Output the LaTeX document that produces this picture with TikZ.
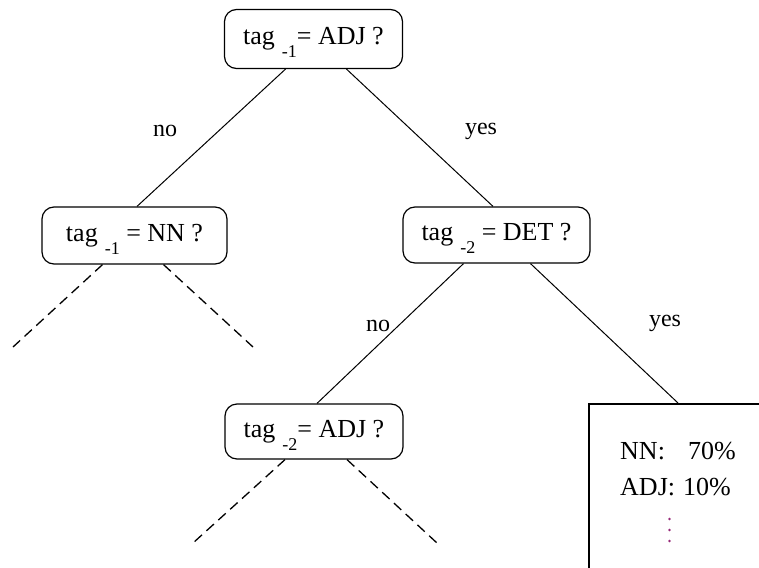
\documentclass[tikz,border=0pt]{standalone}
\usepackage{fontspec}
\setmainfont{Liberation Serif}
\usetikzlibrary{calc}
\newcommand{\tagsub}[1]{tag\hspace{7pt}\raisebox{-13pt}[0pt][0pt]{\fontsize{18}{18}\selectfont #1}}
\begin{document}
\begin{tikzpicture}[x=1pt,y=-1pt,
  qbox/.style={draw, rounded corners=12pt, line width=1.2pt, inner sep=0pt,
    font=\fontsize{26}{30}\selectfont},
  edge/.style={line width=1pt},
  dedge/.style={line width=1.3pt, dash pattern=on 10pt off 6pt},
  lbl/.style={font=\fontsize{24}{28}\selectfont},
  leaftxt/.style={font=\fontsize{26}{30}\selectfont, anchor=base west, inner sep=0pt},
  dotc/.style={fill={rgb,255:red,150;green,40;blue,120}}]
\useasboundingbox (0,0) rectangle (759,567);
\clip (0,0) rectangle (759,567);
\node[qbox, minimum width=178pt, minimum height=59pt] (root) at (313.5,39) {\tagsub{-1}= ADJ ?};
\node[qbox, minimum width=185pt, minimum height=57pt] (nn) at (134.5,235.5) {\tagsub{-1} = NN ?};
\node[qbox, minimum width=187pt, minimum height=56pt] (det) at (496.5,235) {\tagsub{-2} = DET ?};
\node[qbox, minimum width=178pt, minimum height=55pt] (adj) at (314,431.5) {\tagsub{-2}= ADJ ?};
\node[draw, line width=1.6pt, anchor=north west, minimum width=220pt, minimum height=220pt, inner sep=0pt] (leaf) at (588,403) {};
\coordinate (nnl) at (13,347);
\coordinate (nnr) at (253,347);
\coordinate (adjl) at (193,543);
\coordinate (adjr) at (437,543);
\draw[edge] ($(root.south)+(-28,0)$) -- ($(nn.north)+(2.5,0)$);
\draw[edge] ($(root.south)+(33,0)$) -- ($(det.north)+(-3.5,0)$);
\draw[edge] ($(det.south)+(-33,0)$) -- ($(adj.north)+(3,0)$);
\draw[edge] ($(det.south)+(34,0)$) -- ($(leaf.north west)+(90,0)$);
\draw[dedge] ($(nn.south)+(-32,0)$) -- (nnl);
\draw[dedge] ($(nn.south)+(29,0)$) -- (nnr);
\draw[dedge] ($(adj.south)+(-29,0)$) -- (adjl);
\draw[dedge] ($(adj.south)+(33,0)$) -- (adjr);
\node[lbl] (l1) at (165,131) {no};
\node[lbl] (l2) at (481,131) {yes};
\node[lbl] (l3) at (378,326) {no};
\node[lbl] (l4) at (665,323) {yes};
\node[leaftxt] (t1) at (620,459) {NN:};
\node[leaftxt] (t2) at (688,459) {70\%};
\node[leaftxt] (t3) at (620,495) {ADJ:};
\node[leaftxt] (t4) at (683,495) {10\%};
\fill[dotc] (669.5,519) circle (1.4pt);
\fill[dotc] (669.5,530) circle (1.4pt);
\fill[dotc] (669.5,541) circle (1.4pt);
\end{tikzpicture}
\end{document}
